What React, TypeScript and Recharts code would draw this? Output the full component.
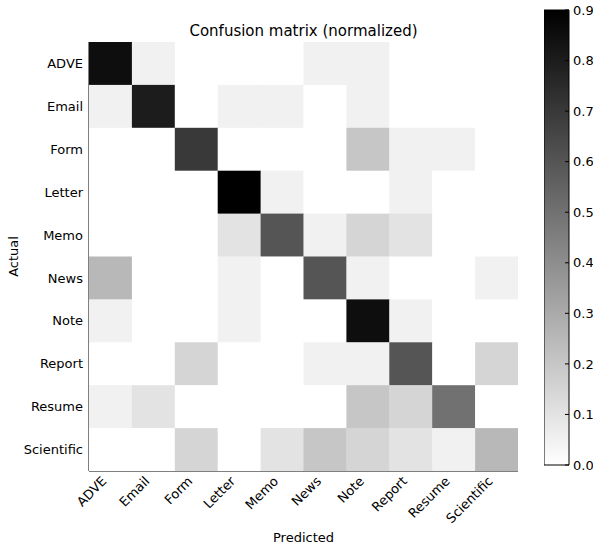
import { Bar, BarChart, Scatter, ScatterChart, XAxis, YAxis } from "recharts";

const classes = [
  "ADVE",
  "Email",
  "Form",
  "Letter",
  "Memo",
  "News",
  "Note",
  "Report",
  "Resume",
  "Scientific",
];

// rows = actual, columns = predicted
const matrix = [
  [0.85, 0.05, 0, 0, 0, 0.05, 0.05, 0, 0, 0],
  [0.05, 0.8, 0, 0.05, 0.05, 0, 0.05, 0, 0, 0],
  [0, 0, 0.7, 0, 0, 0, 0.2, 0.05, 0.05, 0],
  [0, 0, 0, 0.9, 0.05, 0, 0, 0.05, 0, 0],
  [0, 0, 0, 0.1, 0.6, 0.05, 0.15, 0.1, 0, 0],
  [0.25, 0, 0, 0.05, 0, 0.6, 0.05, 0, 0, 0.05],
  [0.05, 0, 0, 0.05, 0, 0, 0.85, 0.05, 0, 0],
  [0, 0, 0.15, 0, 0, 0.05, 0.05, 0.6, 0, 0.15],
  [0.05, 0.1, 0, 0, 0, 0, 0.2, 0.15, 0.5, 0],
  [0, 0, 0.15, 0, 0.1, 0.2, 0.15, 0.1, 0.05, 0.25],
];

const colorbarTicks = [0, 0.1, 0.2, 0.3, 0.4, 0.5, 0.6, 0.7, 0.8, 0.9];
const vmax = 0.9;

const font = "'DejaVu Sans', sans-serif";
const idx = classes.map((_, i) => i);

const cells = matrix.flatMap((row, r) => row.map((v, c) => ({ x: c, y: r, v })));

// plot is 429px square -> 10 cells
const CELL = 429 / 10;

function gray(v: number) {
  const t = Math.min(Math.max(v / vmax, 0), 1);
  const g = Math.round(255 * (1 - t));
  return `rgb(${g},${g},${g})`;
}

function CellShape(props: any) {
  const { cx, cy, payload } = props;
  return (
    <rect
      x={cx - CELL / 2}
      y={cy - CELL / 2}
      width={CELL + 0.4}
      height={CELL + 0.4}
      fill={gray(payload.v)}
    />
  );
}

function XTick({ x, y, payload }: any) {
  const ax = x - 3;
  return (
    <text
      x={ax}
      y={y}
      transform={`rotate(-45, ${ax}, ${y})`}
      textAnchor="end"
      fontSize={13}
      fontFamily={font}
      fill="#000"
    >
      {classes[payload.value]}
    </text>
  );
}

const NoTick = () => <g />;

export default function App() {
  return (
    <div style={{ position: "absolute", left: 0, top: 0, width: 593, height: 546, background: "#fff" }}>
      <ScatterChart width={593} height={546} margin={{ top: 42, right: 75, bottom: 15, left: 9 }}>
        <XAxis
          xAxisId="b"
          type="number"
          dataKey="x"
          domain={[-0.5, 9.5]}
          allowDataOverflow
          ticks={idx}
          interval={0}
          height={60}
          tickSize={-4}
          tickMargin={15}
          axisLine={{ stroke: "#000" }}
          tickLine={{ stroke: "#000" }}
          tick={<XTick />}
        />
        <XAxis
          xAxisId="t"
          orientation="top"
          type="number"
          domain={[-0.5, 9.5]}
          allowDataOverflow
          ticks={idx}
          interval={0}
          height={0}
          tickSize={-4}
          axisLine={{ stroke: "#000" }}
          tickLine={{ stroke: "#000" }}
          tick={<NoTick />}
        />
        <YAxis
          yAxisId="l"
          type="number"
          dataKey="y"
          domain={[-0.5, 9.5]}
          allowDataOverflow
          reversed
          ticks={idx}
          interval={0}
          width={80}
          tickSize={-4}
          tickMargin={10}
          axisLine={{ stroke: "#000" }}
          tickLine={{ stroke: "#000" }}
          tickFormatter={(v: number) => classes[v]}
          tick={{ fill: "#000", fontSize: 13, fontFamily: font }}
        />
        <YAxis
          yAxisId="r"
          orientation="right"
          type="number"
          domain={[-0.5, 9.5]}
          allowDataOverflow
          reversed
          ticks={idx}
          interval={0}
          width={0}
          tickSize={-4}
          axisLine={{ stroke: "#000" }}
          tickLine={{ stroke: "#000" }}
          tick={<NoTick />}
        />
        <Scatter
          data={cells}
          xAxisId="b"
          yAxisId="l"
          shape={<CellShape />}
          isAnimationActive={false}
        />
        <text x={303.5} y={36} textAnchor="middle" fontSize={15} fontFamily={font} fill="#000">
          Confusion matrix (normalized)
        </text>
        <text x={303.5} y={542} textAnchor="middle" fontSize={13} fontFamily={font} fill="#000">
          Predicted
        </text>
        <text
          x={18}
          y={256.5}
          transform="rotate(-90, 18, 256.5)"
          textAnchor="middle"
          fontSize={13}
          fontFamily={font}
          fill="#000"
        >
          Actual
        </text>
      </ScatterChart>

      <div style={{ position: "absolute", left: 544, top: 0 }}>
        <BarChart
          width={49}
          height={480}
          data={[{ name: "cb", v: vmax }]}
          margin={{ top: 10, right: 0, bottom: 15, left: 0 }}
          barCategoryGap={0}
        >
          <defs>
            <linearGradient id="cbGrad" x1="0" y1="0" x2="0" y2="1">
              <stop offset="0%" stopColor="#000" />
              <stop offset="100%" stopColor="#fff" />
            </linearGradient>
          </defs>
          <XAxis dataKey="name" hide />
          <YAxis
            orientation="right"
            type="number"
            domain={[0, vmax]}
            ticks={colorbarTicks}
            interval={0}
            width={24}
            tickSize={-4}
            tickMargin={8}
            axisLine={false}
            tickLine={{ stroke: "#000" }}
            tickFormatter={(v: number) => v.toFixed(1)}
            tick={{ fill: "#000", fontSize: 13, fontFamily: font, textAnchor: "start" }}
          />
          <Bar dataKey="v" fill="url(#cbGrad)" stroke="#000" strokeWidth={1} isAnimationActive={false} />
        </BarChart>
      </div>
    </div>
  );
}
